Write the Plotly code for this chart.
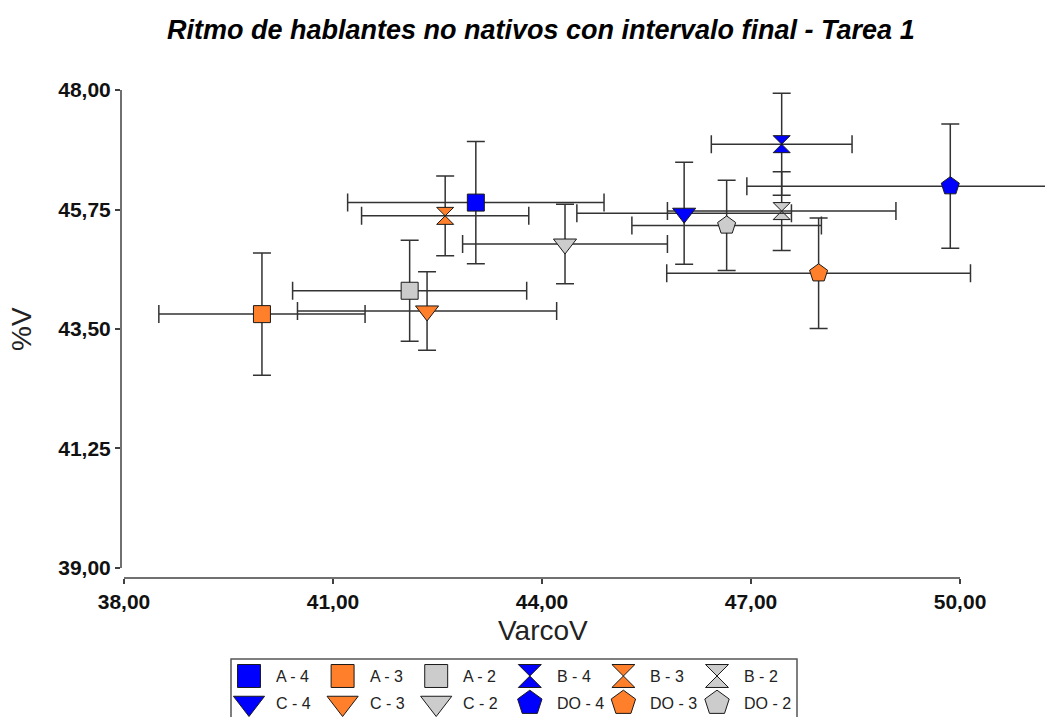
import plotly.graph_objects as go

# Group means with symmetric error (VarcoV on x, %V on y)
series = ["A - 4", "A - 3", "A - 2", "B - 4", "B - 3", "B - 2",
          "C - 4", "C - 3", "C - 2", "DO - 4", "DO - 3", "DO - 2"]
varco_v = [43.05, 39.98, 42.10, 47.44, 42.61, 47.44,
           46.04, 42.35, 44.33, 49.86, 47.97, 46.65]
varco_err = [1.84, 1.48, 1.68, 1.01, 1.20, 1.64,
             1.54, 1.86, 1.47, 2.92, 2.18, 1.36]
pct_v = [45.88, 43.78, 44.22, 46.98, 45.63, 45.72,
         45.68, 43.84, 45.10, 46.19, 44.55, 45.45]
pct_err = [1.15, 1.15, 0.95, 0.96, 0.75, 0.74,
           0.96, 0.74, 0.75, 1.17, 1.04, 0.85]

x_ticks = [38, 41, 44, 47, 50]
y_ticks = [39.00, 41.25, 43.50, 45.75, 48.00]

# styling by speaker group (symbol) and level (colour)
SYMBOLS = {"A": ("square", 17), "B": ("hourglass", 17),
           "C": ("triangle-down", 20), "DO": ("pentagon", 19)}
COLORS = {"4": "#0000FF", "3": "#FF7F2A", "2": "#CCCCCC"}

W, H = 1045, 717
# pixel frame of the plotting area
PL, PT, PB = 121, 60, 578
X0_PX, X_PER = 124.0, 69.67      # pixel of x=38, pixels per unit
Y48_PX, Y_PER = 90.0, 53.11      # pixel of y=48, pixels per unit

x_range = [38 + (PL - X0_PX) / X_PER, 38 + (W - X0_PX) / X_PER]
y_range = [48 - (PB - Y48_PX) / Y_PER, 48 + (Y48_PX - PT) / Y_PER]

FONT = "Liberation Sans, Arial, sans-serif"
AXIS_COL = "#404040"
ERR_COL = "#333333"

fig = go.Figure()

for name, xv, xe, yv, ye in zip(series, varco_v, varco_err, pct_v, pct_err):
    grp, lvl = [s.strip() for s in name.split("-")]
    sym, size = SYMBOLS[grp]
    fig.add_trace(go.Scatter(
        x=[xv], y=[yv], mode="markers", name=name, showlegend=False,
        marker=dict(symbol=sym, size=size, color=COLORS[lvl],
                    line=dict(color="#1a1a1a", width=1)),
        error_x=dict(type="data", array=[xe], color=ERR_COL, thickness=1.5, width=9),
        error_y=dict(type="data", array=[ye], color=ERR_COL, thickness=1.5, width=9),
        xaxis="x", yaxis="y",
    ))

# legend panel: two rows of six entries drawn on their own pixel-scaled axes
LEG_X0, LEG_DX, LEG_Y0, LEG_DY = 249.0, 93.6, 676.0, 27.0
annotations = []
for i, name in enumerate(series):
    grp, lvl = [s.strip() for s in name.split("-")]
    sym, size = SYMBOLS[grp]
    cx = LEG_X0 + (i % 6) * LEG_DX
    cy = LEG_Y0 + (i // 6) * LEG_DY
    fig.add_trace(go.Scatter(
        x=[cx], y=[cy], mode="markers", showlegend=False, hoverinfo="skip",
        marker=dict(symbol=sym, size=size * 1.35, color=COLORS[lvl],
                    line=dict(color="#1a1a1a", width=1)),
        xaxis="x2", yaxis="y2",
    ))
    annotations.append(dict(
        x=cx + 25, y=cy, xref="x2", yref="y2", text=name, showarrow=False,
        xanchor="left", yanchor="middle",
        font=dict(family=FONT, size=16, color="#222222"),
    ))

annotations += [
    dict(text="Ritmo de hablantes no nativos con intervalo final - Tarea 1",
         x=541 / W, y=1 - 30 / H, xref="paper", yref="paper", showarrow=False,
         xanchor="center", yanchor="middle",
         font=dict(family=FONT, size=27, color="#000000", weight="bold", style="italic")),
    dict(text="VarcoV", x=543 / W, y=1 - 630 / H, xref="paper", yref="paper",
         showarrow=False, xanchor="center", yanchor="middle",
         font=dict(family=FONT, size=28, color="#222222")),
    dict(text="%V", x=22 / W, y=1 - 329 / H, xref="paper", yref="paper",
         showarrow=False, xanchor="center", yanchor="middle", textangle=-90,
         font=dict(family=FONT, size=28, color="#222222")),
]

shapes = [
    # y axis line spanning only the labelled range
    dict(type="line", xref="paper", yref="y", x0=PL / W, x1=PL / W,
         y0=y_ticks[0], y1=y_ticks[-1], line=dict(color=AXIS_COL, width=1.5)),
    # x axis line spanning only the labelled range
    dict(type="line", xref="x", yref="paper", x0=x_ticks[0], x1=x_ticks[-1],
         y0=1 - PB / H, y1=1 - PB / H, line=dict(color=AXIS_COL, width=1.5)),
    # legend frame (runs off the bottom edge)
    dict(type="rect", xref="x2", yref="y2", x0=231, x1=797, y0=659, y1=730,
         line=dict(color="#555555", width=1.5), fillcolor="rgba(0,0,0,0)"),
]

tick_font = dict(family=FONT, size=21, color="#111111", weight="bold")

fig.update_layout(
    width=W, height=H,
    margin=dict(l=0, r=0, t=0, b=0, autoexpand=False),
    paper_bgcolor="white", plot_bgcolor="white",
    separators=",.",
    showlegend=False,
    xaxis=dict(domain=[PL / W, 1], range=x_range, tickvals=x_ticks, tickformat=".2f",
               showgrid=False, zeroline=False, showline=False, automargin=False,
               ticks="outside", ticklen=5, tickwidth=1.5, tickcolor=AXIS_COL,
               tickfont=tick_font, anchor="y"),
    yaxis=dict(domain=[1 - PB / H, 1 - PT / H], range=y_range, tickvals=y_ticks,
               tickformat=".2f", showgrid=False, zeroline=False, showline=False,
               automargin=False,
               ticks="outside", ticklen=5, tickwidth=1.5, tickcolor=AXIS_COL,
               tickfont=tick_font, anchor="x"),
    xaxis2=dict(domain=[0, 1], range=[0, W], visible=False, anchor="y2",
                fixedrange=True, automargin=False),
    yaxis2=dict(domain=[0, 72 / H], range=[H, H - 72], visible=False, anchor="x2",
                fixedrange=True, automargin=False),
    annotations=annotations,
    shapes=shapes,
)

fig.write_html("out.html")
